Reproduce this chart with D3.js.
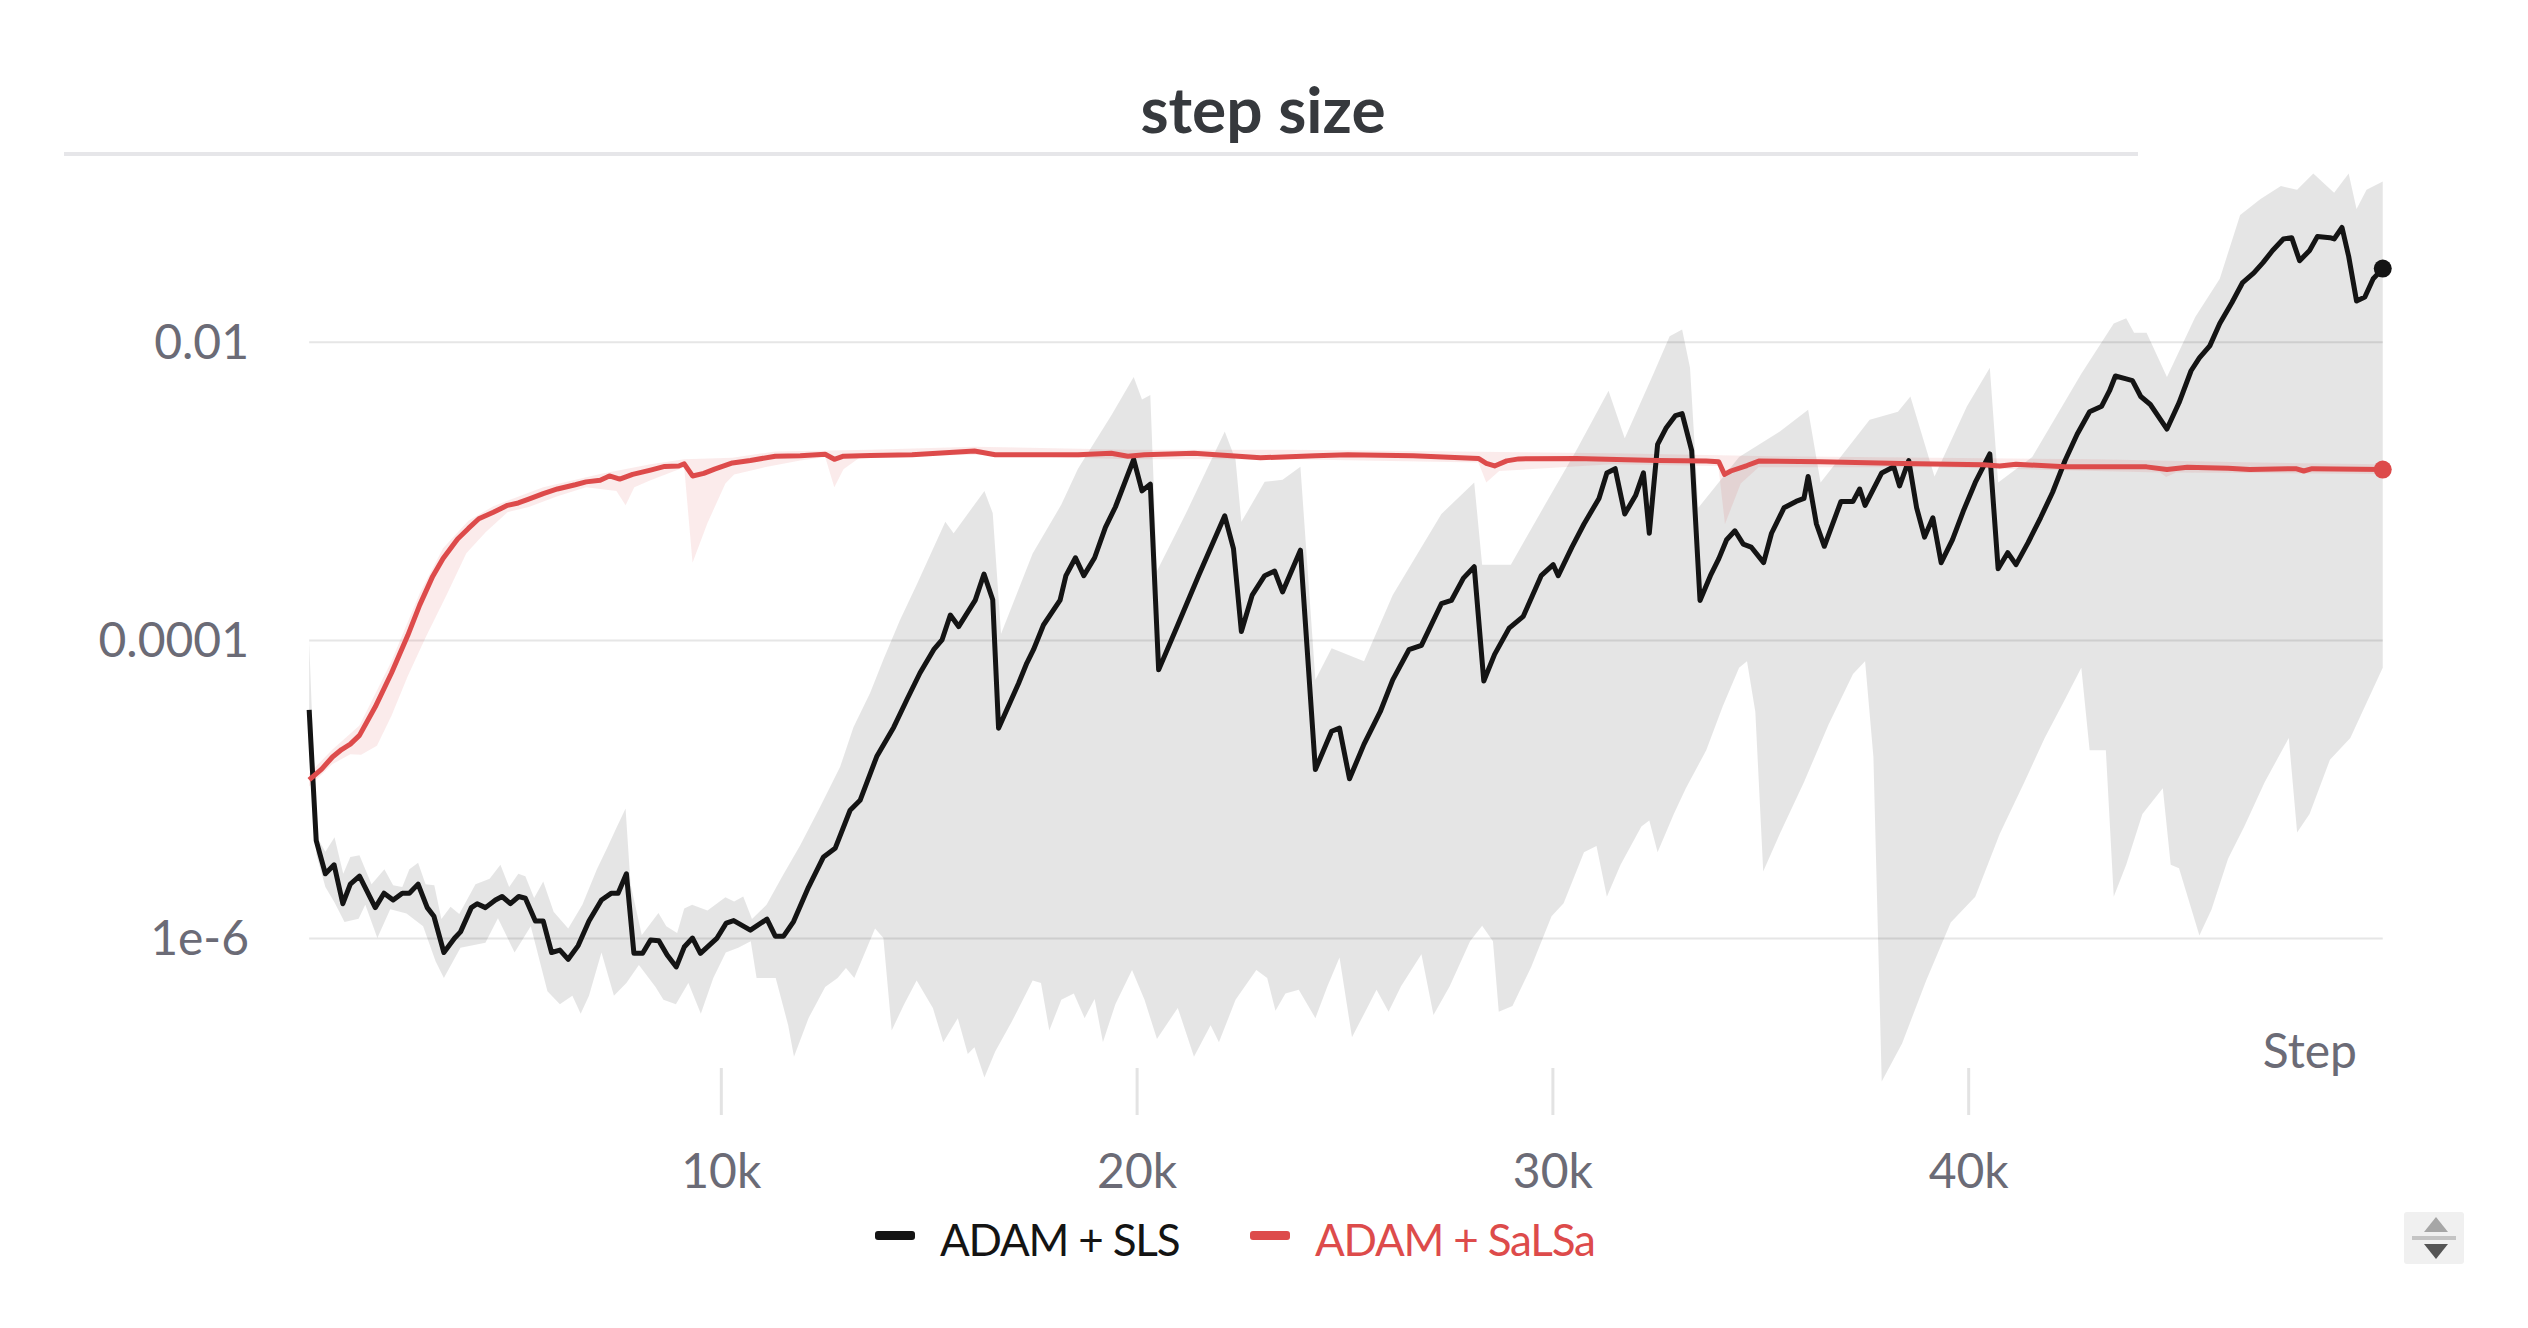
<!DOCTYPE html>
<html>
<head>
<meta charset="utf-8">
<script src="https://cdn.jsdelivr.net/npm/d3@7"></script>
<style>
  html, body { margin: 0; padding: 0; background: #fff; }
  svg { display: block; font-family: Lato, "Source Sans Pro", sans-serif; }
</style>
</head>
<body>
<svg id="chart" width="2528" height="1328"></svg>
<script>
// ADAM + SLS : mean line
let slsStep = [100,270,490,700,910,1090,1310,1690,1900,2120,2340,2510,2720,2940,3100,3340,3600,3740,4000,4140,4340,4580,4740,4940,5140,5300,5540,5730,5930,6130,6330,6570,6830,7130,7370,7530,7730,7910,8120,8310,8510,8710,8930,9120,9320,9510,9910,10130,10310,10710,11110,11310,11510,11750,12110,12470,12750,13110,13350,13750,14160,14480,14790,15120,15320,15520,15720,16120,16330,16540,16680,17160,17360,17520,17760,18160,18300,18530,18730,18990,19250,19490,19930,20130,20330,20530,20990,21490,22120,22330,22520,22780,23080,23320,23510,23940,24300,24690,24880,25120,25470,25860,26160,26550,26850,27330,27570,27860,28120,28350,28610,28960,29300,29730,30020,30140,30470,30760,31120,31310,31510,31740,32000,32190,32330,32530,32730,32960,33120,33350,33550,33800,34000,34190,34390,34590,34780,35080,35270,35570,35860,36050,36150,36350,36540,36940,37230,37390,37520,37920,38210,38350,38570,38760,38950,39150,39350,39620,39880,40170,40520,40720,40950,41150,41440,41740,42030,42330,42620,42920,43210,43400,43540,43800,43950,44150,44380,44780,45070,45360,45560,45810,46050,46340,46600,46870,47090,47320,47580,47780,47970,48210,48400,48700,48800,48990,49150,49340,49540,49740,49970];
let slsValue = [3.4e-5,4.5e-6,2.7e-6,3.1e-6,1.7e-6,2.3e-6,2.6e-6,1.6e-6,2.0e-6,1.8e-6,2.0e-6,2.0e-6,2.3e-6,1.6e-6,1.4e-6,8.0e-7,1.0e-6,1.1e-6,1.6e-6,1.7e-6,1.6e-6,1.8e-6,1.9e-6,1.7e-6,1.9e-6,1.85e-6,1.3e-6,1.3e-6,8.0e-7,8.3e-7,7.2e-7,8.9e-7,1.3e-6,1.8e-6,2.0e-6,2.0e-6,2.7e-6,7.9e-7,7.9e-7,9.7e-7,9.6e-7,7.7e-7,6.4e-7,8.7e-7,1.0e-6,7.9e-7,1.0e-6,1.26e-6,1.31e-6,1.13e-6,1.34e-6,1.03e-6,1.03e-6,1.29e-6,2.2e-6,3.5e-6,4.0e-6,7.2e-6,8.4e-6,1.65e-5,2.6e-5,4.0e-5,6.0e-5,8.6e-5,1.0e-4,1.47e-4,1.23e-4,1.85e-4,2.77e-4,1.86e-4,2.56e-5,5.1e-5,7.0e-5,8.6e-5,1.26e-4,1.85e-4,2.7e-4,3.56e-4,2.7e-4,3.56e-4,5.7e-4,7.8e-4,1.63e-3,1.0e-3,1.11e-3,6.3e-5,1.26e-4,2.7e-4,6.8e-4,4.1e-4,1.14e-4,2.0e-4,2.7e-4,2.9e-4,2.1e-4,4.0e-4,1.35e-5,2.44e-5,2.56e-5,1.17e-5,2.0e-5,3.3e-5,5.4e-5,8.6e-5,9.2e-5,1.75e-4,1.84e-4,2.6e-4,3.1e-4,5.3e-5,8.0e-5,1.2e-4,1.44e-4,2.7e-4,3.2e-4,2.7e-4,4.2e-4,6.0e-4,8.9e-4,1.32e-3,1.41e-3,7.0e-4,9.3e-4,1.32e-3,5.2e-4,2.05e-3,2.63e-3,3.2e-3,3.3e-3,1.86e-3,1.84e-4,2.7e-4,3.5e-4,4.7e-4,5.4e-4,4.4e-4,4.2e-4,3.3e-4,5.2e-4,7.7e-4,8.5e-4,8.9e-4,1.25e-3,6.0e-4,4.25e-4,8.5e-4,8.5e-4,1.03e-3,8.0e-4,1.32e-3,1.45e-3,1.08e-3,1.6e-3,7.7e-4,4.9e-4,6.6e-4,3.3e-4,4.7e-4,7.3e-4,1.14e-3,1.77e-3,3.0e-4,3.85e-4,3.2e-4,4.5e-4,6.6e-4,9.8e-4,1.6e-3,2.4e-3,3.4e-3,3.7e-3,4.7e-3,5.9e-3,5.65e-3,5.5e-3,4.3e-3,3.8e-3,2.6e-3,3.9e-3,6.4e-3,7.8e-3,9.4e-3,1.33e-2,1.83e-2,2.5e-2,2.9e-2,3.4e-2,4.1e-2,4.9e-2,5.0e-2,3.5e-2,4.1e-2,5.1e-2,5.0e-2,4.9e-2,5.85e-2,3.75e-2,1.88e-2,2.0e-2,2.65e-2,3.1e-2];

// ADAM + SLS : max / min envelope
let slsMaxStep = [100,280,490,710,920,1090,1310,1600,1910,2120,2340,2510,2720,2900,3110,3280,3500,3710,4100,4440,4700,4910,5130,5300,5510,5730,5980,6330,6670,7020,7280,7490,7710,7830,8100,8500,8690,8950,9120,9310,9680,10110,10320,10540,10750,11100,11480,11910,12390,12870,13190,13590,13910,14310,14710,15400,15600,16340,16540,16740,17500,18190,18590,19390,19930,20130,20330,20490,21190,22120,22380,22520,23080,23510,23940,24300,24690,25470,26160,27330,28120,28310,29000,29780,30570,31350,31740,32430,32820,33120,33310,33510,34490,35470,36150,36450,37630,38310,38610,39190,39970,40520,40720,41540,42720,43500,43800,43990,44290,44780,45460,46050,46540,47030,47520,47910,48300,48800,49150,49340,49580,49970];
let slsMax = [9.9e-5,4.8e-6,3.8e-6,4.75e-6,2.7e-6,3.5e-6,3.6e-6,2.3e-6,2.9e-6,2.26e-6,2.2e-6,2.9e-6,3.2e-6,2.3e-6,2.26e-6,1.34e-6,1.62e-6,1.45e-6,2.3e-6,2.5e-6,3.1e-6,2.2e-6,2.7e-6,2.6e-6,1.86e-6,2.4e-6,1.5e-6,1.16e-6,1.67e-6,2.9e-6,4.1e-6,5.5e-6,7.4e-6,2.3e-6,1.05e-6,1.47e-6,1.2e-6,1.08e-6,1.58e-6,1.67e-6,1.53e-6,1.88e-6,1.76e-6,1.9e-6,1.34e-6,1.67e-6,2.6e-6,4.2e-6,7.6e-6,1.41e-5,2.6e-5,4.4e-5,7.4e-5,1.36e-4,2.35e-4,6.2e-4,5.2e-4,1.0e-3,7.1e-4,1.1e-4,3.8e-4,8.1e-4,1.41e-3,3.2e-3,5.8e-3,4.1e-3,4.4e-3,2.9e-4,7.1e-4,2.5e-3,1.62e-3,6.2e-4,1.15e-3,1.19e-3,1.45e-3,5.4e-5,8.8e-5,7.2e-5,2.0e-4,7.0e-4,1.14e-3,3.2e-4,3.2e-4,7.7e-4,1.86e-3,4.7e-3,2.26e-3,6.1e-3,1.09e-2,1.21e-2,6.7e-3,7.7e-4,1.69e-3,2.5e-3,3.5e-3,1.14e-3,3.0e-3,3.4e-3,4.3e-3,1.25e-3,3.7e-3,6.7e-3,1.14e-3,1.69e-3,6.1e-3,1.33e-2,1.44e-2,1.15e-2,1.15e-2,5.8e-3,1.47e-2,2.65e-2,7.1e-2,9.1e-2,0.111,0.105,0.135,0.100,0.135,7.8e-2,0.105,0.119];
let slsMinStep = [100,270,490,710,950,1290,1450,1740,2050,2440,2840,3140,3340,3740,4340,4640,5040,5430,5830,6130,6430,6630,6830,7130,7430,7730,8030,8430,8620,8920,9220,9520,9820,10120,10420,10720,10860,11320,11620,11760,12110,12510,12810,13010,13210,13710,13910,14110,14410,14710,15100,15350,15700,15940,16100,16340,16600,17000,17500,17700,17900,18190,18490,18750,18990,19190,19490,19890,20190,20490,20990,21380,21780,21980,22380,22880,23140,23340,23580,23900,24300,24590,24880,25180,25570,25770,26060,26360,26850,27140,27530,28020,28310,28570,28710,29040,29490,29980,30270,30760,31060,31310,31640,32140,32330,32530,32920,33210,33700,34100,34490,34680,34880,35070,35470,36050,36640,37230,37520,37720,37920,38410,38990,39580,40170,40760,41350,41840,42330,42720,42920,43310,43500,43800,44190,44680,44870,45070,45560,45850,46250,46640,47130,47710,47910,48210,48700,49190,49970];
let slsMin = [3.0e-5,3.65e-6,2.2e-6,1.73e-6,1.28e-6,1.35e-6,1.67e-6,1.0e-6,1.56e-6,1.46e-6,1.2e-6,7.0e-7,5.4e-7,8.6e-7,9.3e-7,1.36e-6,8.0e-7,1.2e-6,4.4e-7,3.6e-7,4.1e-7,3.1e-7,4.1e-7,8.0e-7,4.1e-7,5.0e-7,6.6e-7,4.7e-7,3.85e-7,3.6e-7,5.0e-7,3.1e-7,5.4e-7,8.0e-7,8.6e-7,9.5e-7,5.4e-7,5.4e-7,2.6e-7,1.6e-7,2.9e-7,4.7e-7,5.4e-7,6.3e-7,5.4e-7,1.16e-6,1.0e-6,2.4e-7,3.6e-7,5.2e-7,3.4e-7,2.0e-7,2.9e-7,1.67e-7,1.85e-7,1.16e-7,1.73e-7,2.75e-7,5.2e-7,5.0e-7,2.4e-7,3.85e-7,4.25e-7,2.9e-7,3.9e-7,2.0e-7,3.6e-7,6.1e-7,3.85e-7,2.1e-7,3.4e-7,1.6e-7,2.6e-7,2.0e-7,3.85e-7,6.1e-7,5.4e-7,3.25e-7,4.25e-7,4.5e-7,2.9e-7,4.75e-7,7.4e-7,2.16e-7,3.5e-7,4.5e-7,3.2e-7,4.75e-7,7.8e-7,3.05e-7,4.75e-7,9.5e-7,1.21e-6,9.5e-7,3.2e-7,3.5e-7,6.4e-7,1.4e-6,1.71e-6,3.76e-6,4.15e-6,1.89e-6,3.1e-6,5.6e-6,6.15e-6,3.76e-6,6.8e-6,1.01e-5,1.82e-5,3.6e-5,6.5e-5,7.2e-5,3.3e-5,2.8e-6,5.0e-6,1.11e-5,2.7e-5,5.9e-5,7.2e-5,1.64e-5,1.09e-7,1.96e-7,5.2e-7,1.27e-6,1.89e-6,5.0e-6,1.11e-5,2.2e-5,4.0e-5,6.5e-5,1.82e-5,1.82e-5,1.89e-6,3.1e-6,6.8e-6,1.01e-5,3.1e-6,2.94e-6,1.04e-6,1.55e-6,3.4e-6,5.6e-6,1.11e-5,2.2e-5,5.1e-6,6.8e-6,1.57e-5,2.2e-5,6.5e-5];

// ADAM + SaLSa : mean line
let salsaStep = [100,400,660,880,1090,1310,1690,2080,2470,2760,3070,3320,3670,3930,4180,4530,4870,5130,5380,5730,6070,6500,6760,7100,7320,7570,7880,8310,8650,8990,9120,9320,9590,9850,10280,10710,11310,11910,12510,12730,12950,13600,14600,16100,16600,18590,19390,19790,20190,21380,22180,22980,24300,25080,26650,28220,28410,28610,28900,29190,30570,32530,33700,34000,34140,34290,34680,34980,36450,38410,40370,40760,41150,42330,44290,44780,45270,46250,46770,47880,48070,48270,49970];
let salsaValue = [1.15e-5,1.36e-5,1.64e-5,1.84e-5,2.0e-5,2.29e-5,3.56e-5,6.0e-5,1.07e-4,1.72e-4,2.67e-4,3.52e-4,4.76e-4,5.6e-4,6.5e-4,7.2e-4,8.0e-4,8.3e-4,8.8e-4,9.6e-4,1.03e-3,1.10e-3,1.15e-3,1.18e-3,1.26e-3,1.20e-3,1.29e-3,1.38e-3,1.46e-3,1.47e-3,1.52e-3,1.26e-3,1.31e-3,1.40e-3,1.54e-3,1.60e-3,1.71e-3,1.72e-3,1.76e-3,1.63e-3,1.71e-3,1.73e-3,1.75e-3,1.85e-3,1.75e-3,1.75e-3,1.79e-3,1.71e-3,1.75e-3,1.79e-3,1.73e-3,1.67e-3,1.72e-3,1.75e-3,1.72e-3,1.65e-3,1.53e-3,1.47e-3,1.59e-3,1.64e-3,1.65e-3,1.60e-3,1.59e-3,1.57e-3,1.29e-3,1.36e-3,1.48e-3,1.59e-3,1.57e-3,1.53e-3,1.50e-3,1.47e-3,1.51e-3,1.45e-3,1.45e-3,1.39e-3,1.44e-3,1.42e-3,1.39e-3,1.41e-3,1.36e-3,1.41e-3,1.39e-3];

// ADAM + SaLSa : max / min envelope
let salsaMaxStep = [100,660,1310,2080,2760,3320,3930,4530,5730,7100,8310,9120,10280,11310,13600,16100,19810,23680,27560,31430,35310,39190,43060,46940,49970];
let salsaMax = [1.27e-5,1.84e-5,2.67e-5,7.2e-5,2.06e-4,4.13e-4,6.3e-4,7.9e-4,1.06e-3,1.30e-3,1.51e-3,1.63e-3,1.67e-3,1.84e-3,1.89e-3,1.98e-3,1.89e-3,1.89e-3,1.84e-3,1.79e-3,1.71e-3,1.67e-3,1.63e-3,1.55e-3,1.51e-3];
let salsaMinStep = [100,660,1090,1350,1730,2080,2470,2900,3410,3880,4350,4870,5380,6070,6760,7490,7710,7920,8310,9120,9320,9680,10110,10320,11050,11910,12510,12730,12950,13360,16100,19810,23680,28220,28410,28720,31430,33990,34150,34530,34960,39190,44610,44760,45000,49970];
let salsaMin = [1.04e-5,1.47e-5,1.71e-5,1.70e-5,1.95e-5,3.1e-5,5.7e-5,1.04e-4,2.02e-4,3.82e-4,5.3e-4,7.2e-4,7.8e-4,9.2e-4,1.06e-3,1.00e-3,8.0e-4,1.06e-3,1.18e-3,1.44e-3,3.3e-4,6.1e-4,1.12e-3,1.29e-3,1.44e-3,1.60e-3,1.69e-3,1.06e-3,1.40e-3,1.69e-3,1.75e-3,1.63e-3,1.63e-3,1.55e-3,1.14e-3,1.36e-3,1.51e-3,1.47e-3,6.0e-4,1.12e-3,1.44e-3,1.44e-3,1.33e-3,1.24e-3,1.33e-3,1.30e-3];

// axis ticks
let xTicks = [10000, 20000, 30000, 40000];
let yTicks = [1e-6, 1e-4, 1e-2];
let yTickLabels = ["1e-6", "0.0001", "0.01"];
let seriesNames = ["ADAM + SLS", "ADAM + SaLSa"];
let seriesColors = ["#141414", "#dd4b4b"];

var zip = function(steps, vals) {
  return steps.map(function(s, i) { return [s, vals[i]]; });
};

var svg = d3.select("#chart");
var tickColor = "#6b6b76";

var x = d3.scaleLinear().domain([0, 50000]).range([305, 2384]);
var y = d3.scaleLog().domain([6.6e-8, 0.166]).range([1114, 160]);

var xLeft = x(slsStep[0]);
var xRight = x(slsStep[slsStep.length - 1]);

// title
svg.append("text")
  .attr("x", 1263).attr("y", 133)
  .attr("text-anchor", "middle")
  .style("font-size", "64px").style("font-weight", "bold")
  .style("fill", "#36393d")
  .text("step size");
svg.append("line")
  .attr("x1", 64).attr("x2", 2138).attr("y1", 154).attr("y2", 154)
  .attr("stroke", "#e6e6e9").attr("stroke-width", 4);

// grid lines
var grid = svg.append("g").attr("transform", "translate(" + xLeft + ",0)")
  .call(d3.axisLeft(y).tickValues(yTicks).tickSize(-(xRight - xLeft)).tickFormat(""));
grid.select(".domain").remove();
grid.selectAll("line").attr("stroke", "#e6e6e6").attr("stroke-width", 2);

// y labels
var yAxis = svg.append("g").attr("transform", "translate(249,0)")
  .call(d3.axisLeft(y).tickValues(yTicks).tickSize(0).tickPadding(0)
    .tickFormat(function(d, i) { return yTickLabels[i]; }));
yAxis.select(".domain").remove();
yAxis.selectAll("text")
  .attr("dy", "0.35em")
  .style("font-family", "Lato, sans-serif")
  .style("font-size", "48px").style("fill", tickColor);

// x axis
var xAxis = svg.append("g").attr("transform", "translate(0,1068)")
  .call(d3.axisBottom(x).tickValues(xTicks).tickSize(47)
    .tickFormat(function(d) { return d / 1000 + "k"; }));
xAxis.select(".domain").remove();
xAxis.selectAll("line").attr("stroke", "#e3e3e3").attr("stroke-width", 3);
xAxis.selectAll("text")
  .attr("y", 120).attr("dy", 0)
  .style("font-family", "Lato, sans-serif")
  .style("font-size", "48px").style("fill", tickColor);

svg.append("text")
  .attr("x", 2357).attr("y", 1068)
  .attr("text-anchor", "end")
  .style("font-size", "48px").style("fill", tickColor)
  .text("Step");

// envelopes
var line = d3.line()
  .x(function(d) { return x(d[0]); })
  .y(function(d) { return y(d[1]); });

var band = function(maxSteps, maxVals, minSteps, minVals) {
  var pts = zip(maxSteps, maxVals).concat(zip(minSteps, minVals).reverse());
  return line(pts) + "Z";
};

svg.append("path")
  .attr("d", band(slsMaxStep, slsMax, slsMinStep, slsMin))
  .attr("fill", "rgba(0,0,0,0.1)");
svg.append("path")
  .attr("d", band(salsaMaxStep, salsaMax, salsaMinStep, salsaMin))
  .attr("fill", "rgba(221,75,75,0.11)");

// mean lines
svg.append("path")
  .attr("d", line(zip(slsStep, slsValue)))
  .attr("fill", "none").attr("stroke", seriesColors[0])
  .attr("stroke-width", 5).attr("stroke-linejoin", "round");
svg.append("path")
  .attr("d", line(zip(salsaStep, salsaValue)))
  .attr("fill", "none").attr("stroke", seriesColors[1])
  .attr("stroke-width", 5).attr("stroke-linejoin", "round");

// end points
svg.append("circle")
  .attr("cx", x(slsStep[slsStep.length - 1])).attr("cy", y(slsValue[slsValue.length - 1]))
  .attr("r", 9).attr("fill", seriesColors[0]);
svg.append("circle")
  .attr("cx", x(salsaStep[salsaStep.length - 1])).attr("cy", y(salsaValue[salsaValue.length - 1]))
  .attr("r", 9).attr("fill", seriesColors[1]);

// legend
var legendX = [875, 1250];
var legend = svg.append("g");
seriesNames.forEach(function(name, i) {
  legend.append("rect")
    .attr("x", legendX[i]).attr("y", 1231)
    .attr("width", 40).attr("height", 9).attr("rx", 3)
    .attr("fill", seriesColors[i]);
  legend.append("text")
    .attr("x", legendX[i] + 65).attr("y", 1256)
    .style("font-size", "44px")
    .style("letter-spacing", "-1.2px")
    .style("fill", seriesColors[i])
    .text(name);
});

// little scroll widget in the corner
var widget = svg.append("g");
widget.append("rect")
  .attr("x", 2404).attr("y", 1212).attr("width", 60).attr("height", 52)
  .attr("rx", 3).attr("fill", "#f0f0f0");
widget.append("path")
  .attr("d", "M2424,1232L2448,1232L2436,1217Z").attr("fill", "#a6a6a6");
widget.append("line")
  .attr("x1", 2412).attr("x2", 2456).attr("y1", 1238).attr("y2", 1238)
  .attr("stroke", "#c4c4c4").attr("stroke-width", 4);
widget.append("path")
  .attr("d", "M2424,1244L2448,1244L2436,1259Z").attr("fill", "#555555");
</script>
</body>
</html>
